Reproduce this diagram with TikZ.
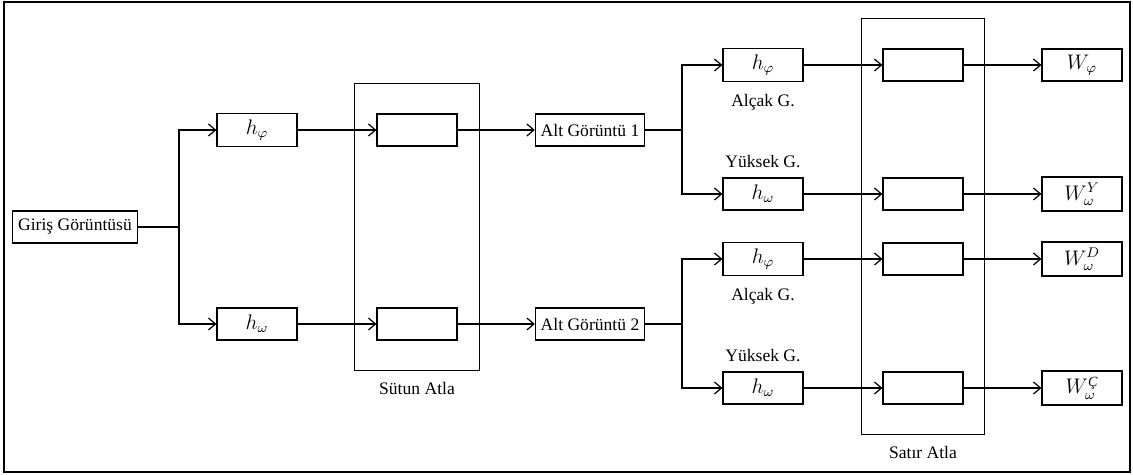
\documentclass[tikz,border=0pt]{standalone}
\usepackage{amsmath}
\usepackage{fontspec}
\setmainfont{Liberation Serif}
\usetikzlibrary{arrows.meta,positioning,fit}

\begin{document}
\begin{tikzpicture}[
  x=0.02cm, y=-0.02cm,
  font=\fontsize{10}{12}\selectfont,
  >={Straight Barb[length=1.4mm,width=2.4mm]},
  box/.style={draw, line width=0.7pt, minimum width=1.6cm, minimum height=0.64cm, inner xsep=3pt},
  mbox/.style={box, font=\fontsize{12}{14}\selectfont},
  frame/.style={draw, line width=0.7pt, inner xsep=0.44cm, inner ysep=0.6cm},
  arrow/.style={->, line width=0.7pt},
  line/.style={line width=0.7pt}
]
\useasboundingbox (0,0) rectangle (1133,475);
\draw[line width=0.8pt] (4,2) rectangle (1130,472);

\node[box] (in) at (75,227) {Giriş Görüntüsü};
\node[mbox] (hp) at (257,130) {$h_{\varphi}$};
\node[mbox] (hw) at (257,324) {$h_{\omega}$};
\node[box] (c1) at (417,130) {};
\node[box] (c2) at (417,324) {};
\node[frame, fit=(c1)(c2)] (sutun) {};
\node[below=1mm of sutun] (sutunlbl) {Sütun Atla};
\node[box] (alt1) at (590,130) {Alt Görüntü 1};
\node[box] (alt2) at (590,324) {Alt Görüntü 2};

% ikinci kademe: alçak / yüksek geçiren
\node[mbox] (lp1) at (763,65) {$h_{\varphi}$};
\node[mbox] (hg1) at (763,194) {$h_{\omega}$};
\node[mbox] (lp2) at (763,259) {$h_{\varphi}$};
\node[mbox] (hg2) at (763,388) {$h_{\omega}$};
\node[below=1.2mm of lp1] (lbl1) {Alçak G.};
\node[above=0.6mm of hg1] (lbl2) {Yüksek G.};
\node[below=1.2mm of lp2] (lbl3) {Alçak G.};
\node[above=0.6mm of hg2] (lbl4) {Yüksek G.};

\node[box] (r1) at (923,65) {};
\node[box] (r2) at (923,194) {};
\node[box] (r3) at (923,259) {};
\node[box] (r4) at (923,388) {};
\node[frame, inner xsep=0.42cm, fit=(r1)(r4)] (satir) {};
\node[below=1mm of satir] (satirlbl) {Satır Atla};

\node[mbox] (w1) at (1082,65) {$W_{\varphi}$};
\node[mbox] (w2) at (1082,194) {$W_{\omega}^{Y}$};
\node[mbox] (w3) at (1082,259) {$W_{\omega}^{D}$};
\node[mbox] (w4) at (1082,388) {$W_{\omega}^{\textit{Ç}}$};

\coordinate (s0) at (179,227);
\coordinate (s1) at (682,130);
\coordinate (s2) at (682,324);

\draw[line] (in) -- (s0);
\draw[arrow] (s0) |- (hp);
\draw[arrow] (s0) |- (hw);
\draw[arrow] (hp) -- (c1);
\draw[arrow] (hw) -- (c2);
\draw[arrow] (c1) -- (alt1);
\draw[arrow] (c2) -- (alt2);

\draw[line] (alt1) -- (s1);
\draw[arrow] (s1) |- (lp1);
\draw[arrow] (s1) |- (hg1);
\draw[line] (alt2) -- (s2);
\draw[arrow] (s2) |- (lp2);
\draw[arrow] (s2) |- (hg2);

\draw[arrow] (lp1) -- (r1);
\draw[arrow] (hg1) -- (r2);
\draw[arrow] (lp2) -- (r3);
\draw[arrow] (hg2) -- (r4);
\draw[arrow] (r1) -- (w1);
\draw[arrow] (r2) -- (w2);
\draw[arrow] (r3) -- (w3);
\draw[arrow] (r4) -- (w4);
\end{tikzpicture}
\end{document}
